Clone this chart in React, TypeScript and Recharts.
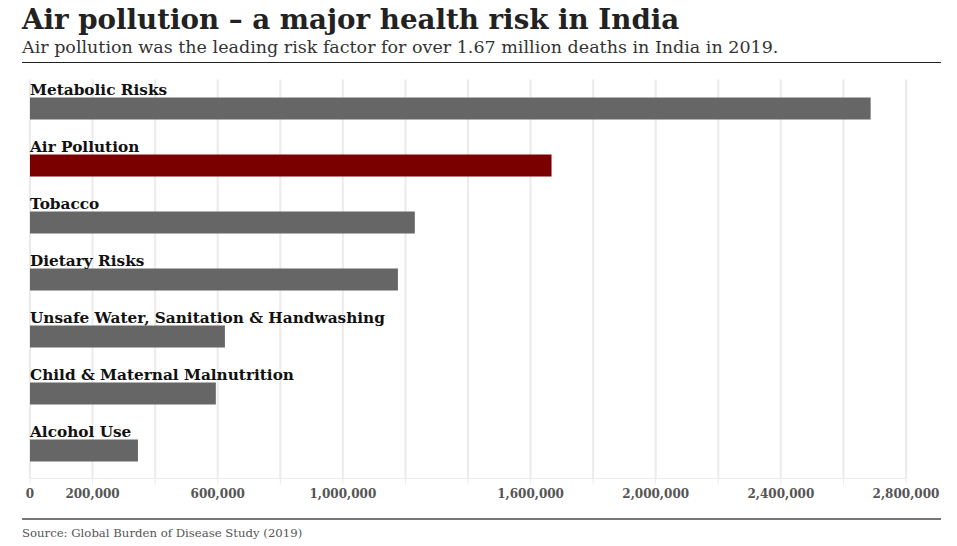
import { BarChart, Bar, XAxis, YAxis, CartesianGrid, Cell, LabelList } from 'recharts'

const categories = [
  'Metabolic Risks',
  'Air Pollution',
  'Tobacco',
  'Dietary Risks',
  'Unsafe Water, Sanitation & Handwashing',
  'Child & Maternal Malnutrition',
  'Alcohol Use',
]
const deaths = [2687000, 1667000, 1230000, 1176000, 623000, 594000, 345000]
const gridTicks = [0, 200000, 400000, 600000, 800000, 1000000, 1200000, 1400000, 1600000, 1800000, 2000000, 2200000, 2400000, 2600000, 2800000]
const labelledTicks = [0, 200000, 600000, 1000000, 1600000, 2000000, 2400000, 2800000]
const highlight = 'Air Pollution'

const data = categories.map((name, i) => ({ name, deaths: deaths[i] }))

const serif = '"DejaVu Serif", serif'

function CategoryLabel(props: any) {
  const { x, y, value } = props
  return (
    <text x={x} y={y - 3} fontFamily={serif} fontWeight="bold" fontSize={15.3} fill="#111">
      {value}
    </text>
  )
}

export default function App() {
  return (
    <div style={{ position: 'relative', width: 957, height: 546, background: '#fff', overflow: 'hidden' }}>
      <style>{'body{margin:0}'}</style>
      <div
        style={{
          position: 'absolute',
          left: 22,
          top: 3,
          fontFamily: serif,
          fontWeight: 'bold',
          fontSize: 27.7,
          color: '#222',
          whiteSpace: 'nowrap',
          lineHeight: '34px',
        }}
      >
        Air pollution – a major health risk in India
      </div>
      <div
        style={{
          position: 'absolute',
          left: 22,
          top: 35,
          fontFamily: serif,
          fontSize: 17.5,
          color: '#333',
          whiteSpace: 'nowrap',
          lineHeight: '24px',
        }}
      >
        Air pollution was the leading risk factor for over 1.67 million deaths in India in 2019.
      </div>
      <div style={{ position: 'absolute', left: 22, top: 62, width: 919, height: 1, background: '#222' }} />

      <div style={{ position: 'absolute', left: 0, top: 0 }}>
        <BarChart
          width={957}
          height={510}
          data={data}
          layout="vertical"
          margin={{ top: 79.5, right: 51, left: 30, bottom: 0 }}
          barCategoryGap={0}
        >
          <CartesianGrid horizontal={false} stroke="#ebebeb" strokeWidth={2} />
          <XAxis
            type="number"
            domain={[0, 2800000]}
            ticks={gridTicks}
            interval={0}
            height={31.5}
            axisLine={{ stroke: '#ebebeb' }}
            tickLine={{ stroke: '#ebebeb' }}
            tickSize={6}
            tickMargin={5}
            tickFormatter={(v: number) => (labelledTicks.includes(v) ? v.toLocaleString('en-US') : '')}
            tick={{ fontFamily: serif, fontWeight: 'bold', fontSize: 12, fill: '#555' }}
          />
          <YAxis type="category" dataKey="name" hide />
          <Bar dataKey="deaths" barSize={22} isAnimationActive={false}>
            {data.map(d => (
              <Cell key={d.name} fill={d.name === highlight ? '#7a0000' : '#666666'} />
            ))}
            <LabelList dataKey="name" content={CategoryLabel} />
          </Bar>
        </BarChart>
      </div>

      <div style={{ position: 'absolute', left: 22, top: 518, width: 919, height: 1.5, background: '#777' }} />
      <div
        style={{
          position: 'absolute',
          left: 22,
          top: 526,
          fontFamily: serif,
          fontSize: 11.7,
          color: '#555',
          whiteSpace: 'nowrap',
        }}
      >
        Source: Global Burden of Disease Study (2019)
      </div>
    </div>
  )
}
